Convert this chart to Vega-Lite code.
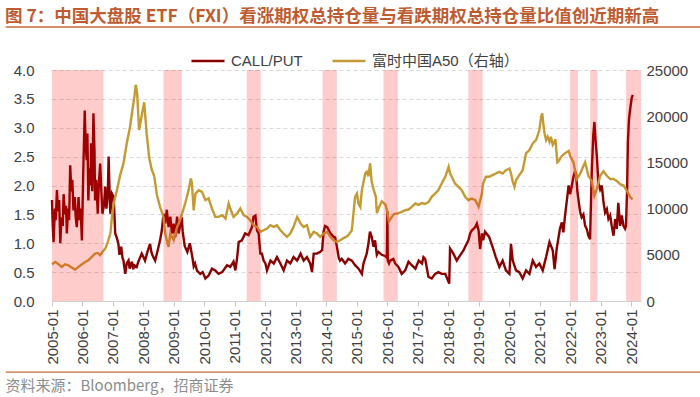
{
  "$schema": "https://vega.github.io/schema/vega-lite/v6.json",
  "width": 589,
  "height": 231,
  "autosize": {"type": "none"},
  "padding": {"left": 52, "top": 70, "right": 59, "bottom": 96},
  "background": "white",
  "config": {
    "view": {"stroke": null},
    "font": "'Liberation Sans', 'Noto Sans CJK SC', sans-serif"
  },
  "title": {
    "text": "图 7：中国大盘股 ETF（FXI）看涨期权总持仓量与看跌期权总持仓量比值创近期新高",
    "anchor": "start",
    "frame": "group",
    "dx": -47,
    "offset": 0,
    "dy": -1,
    "fontSize": 17.5,
    "fontWeight": "bold",
    "color": "#BF5B30",
    "font": "'Noto Sans CJK SC', sans-serif"
  },
  "datasets": {
    "cp": [
      {"d": "2005-01-01", "v": 1.75}, {"d": "2005-01-10", "v": 1.3}, {"d": "2005-01-20", "v": 1.02}, {"d": "2005-02-05", "v": 1.6},
      {"d": "2005-02-15", "v": 1.4}, {"d": "2005-03-01", "v": 1.92}, {"d": "2005-03-15", "v": 1.55}, {"d": "2005-03-28", "v": 1.75},
      {"d": "2005-04-10", "v": 1.0}, {"d": "2005-04-25", "v": 1.45}, {"d": "2005-05-10", "v": 1.3}, {"d": "2005-05-20", "v": 1.85},
      {"d": "2005-06-05", "v": 1.5}, {"d": "2005-06-18", "v": 1.65}, {"d": "2005-06-28", "v": 1.17}, {"d": "2005-07-12", "v": 1.6},
      {"d": "2005-07-25", "v": 1.4}, {"d": "2005-08-07", "v": 2.35}, {"d": "2005-08-20", "v": 1.9}, {"d": "2005-09-01", "v": 2.1},
      {"d": "2005-09-15", "v": 1.57}, {"d": "2005-10-01", "v": 1.8}, {"d": "2005-10-12", "v": 1.45}, {"d": "2005-10-25", "v": 1.28},
      {"d": "2005-11-05", "v": 1.55}, {"d": "2005-11-15", "v": 1.8}, {"d": "2005-11-28", "v": 1.4}, {"d": "2005-12-10", "v": 1.6},
      {"d": "2005-12-25", "v": 1.05}, {"d": "2006-01-10", "v": 2.2}, {"d": "2006-01-28", "v": 3.3}, {"d": "2006-02-08", "v": 2.73},
      {"d": "2006-02-20", "v": 2.44}, {"d": "2006-03-01", "v": 2.9}, {"d": "2006-03-12", "v": 1.74}, {"d": "2006-03-25", "v": 2.3},
      {"d": "2006-04-05", "v": 2.0}, {"d": "2006-04-15", "v": 2.73}, {"d": "2006-04-28", "v": 1.9}, {"d": "2006-05-12", "v": 3.25},
      {"d": "2006-05-25", "v": 2.6}, {"d": "2006-06-01", "v": 1.74}, {"d": "2006-06-15", "v": 2.1}, {"d": "2006-07-03", "v": 1.51},
      {"d": "2006-07-15", "v": 2.0}, {"d": "2006-08-01", "v": 2.38}, {"d": "2006-08-15", "v": 1.9}, {"d": "2006-08-28", "v": 1.51},
      {"d": "2006-09-15", "v": 1.65}, {"d": "2006-10-01", "v": 1.98}, {"d": "2006-10-15", "v": 1.6}, {"d": "2006-11-01", "v": 1.9},
      {"d": "2006-11-10", "v": 2.5}, {"d": "2006-11-25", "v": 1.7}, {"d": "2006-12-01", "v": 1.51}, {"d": "2006-12-20", "v": 1.86},
      {"d": "2007-01-10", "v": 1.8}, {"d": "2007-01-28", "v": 1.17}, {"d": "2007-02-15", "v": 1.1}, {"d": "2007-03-07", "v": 0.99},
      {"d": "2007-03-20", "v": 0.8}, {"d": "2007-04-10", "v": 0.94}, {"d": "2007-04-25", "v": 0.75}, {"d": "2007-05-07", "v": 0.7},
      {"d": "2007-05-28", "v": 0.47}, {"d": "2007-06-15", "v": 0.65}, {"d": "2007-07-06", "v": 0.7}, {"d": "2007-07-20", "v": 0.56},
      {"d": "2007-08-15", "v": 0.68}, {"d": "2007-09-01", "v": 0.55}, {"d": "2007-09-15", "v": 0.62}, {"d": "2007-10-12", "v": 0.59},
      {"d": "2007-11-01", "v": 0.68}, {"d": "2007-11-15", "v": 0.73}, {"d": "2007-12-12", "v": 0.82}, {"d": "2008-01-05", "v": 0.75},
      {"d": "2008-01-20", "v": 0.7}, {"d": "2008-02-18", "v": 0.85}, {"d": "2008-03-20", "v": 0.99}, {"d": "2008-04-05", "v": 0.85},
      {"d": "2008-04-18", "v": 0.79}, {"d": "2008-05-20", "v": 0.7}, {"d": "2008-06-20", "v": 0.88}, {"d": "2008-07-18", "v": 1.05},
      {"d": "2008-08-08", "v": 1.22}, {"d": "2008-08-28", "v": 1.51}, {"d": "2008-09-18", "v": 1.34}, {"d": "2008-10-07", "v": 1.58},
      {"d": "2008-10-28", "v": 1.28}, {"d": "2008-11-18", "v": 1.46}, {"d": "2008-12-07", "v": 1.17}, {"d": "2008-12-28", "v": 1.34},
      {"d": "2009-01-15", "v": 1.1}, {"d": "2009-02-07", "v": 1.46}, {"d": "2009-02-25", "v": 1.17}, {"d": "2009-03-15", "v": 1.3},
      {"d": "2009-04-04", "v": 1.45}, {"d": "2009-04-15", "v": 1.2}, {"d": "2009-05-10", "v": 0.95}, {"d": "2009-06-10", "v": 0.85},
      {"d": "2009-07-10", "v": 1.0}, {"d": "2009-08-10", "v": 0.75}, {"d": "2009-08-25", "v": 0.6}, {"d": "2009-09-10", "v": 0.65},
      {"d": "2009-10-05", "v": 0.52}, {"d": "2009-11-12", "v": 0.47}, {"d": "2009-12-10", "v": 0.5}, {"d": "2010-01-12", "v": 0.39},
      {"d": "2010-02-20", "v": 0.44}, {"d": "2010-04-01", "v": 0.56}, {"d": "2010-05-10", "v": 0.53}, {"d": "2010-06-18", "v": 0.47},
      {"d": "2010-08-01", "v": 0.5}, {"d": "2010-09-28", "v": 0.62}, {"d": "2010-11-06", "v": 0.59}, {"d": "2010-12-15", "v": 0.68},
      {"d": "2011-01-06", "v": 0.53}, {"d": "2011-01-28", "v": 0.76}, {"d": "2011-02-15", "v": 1.02}, {"d": "2011-03-25", "v": 1.05},
      {"d": "2011-05-03", "v": 1.17}, {"d": "2011-06-12", "v": 1.14}, {"d": "2011-07-24", "v": 1.28}, {"d": "2011-08-12", "v": 1.46},
      {"d": "2011-09-03", "v": 1.48}, {"d": "2011-09-22", "v": 1.22}, {"d": "2011-10-12", "v": 1.17}, {"d": "2011-11-01", "v": 0.82},
      {"d": "2011-11-20", "v": 0.82}, {"d": "2011-12-10", "v": 0.7}, {"d": "2012-01-01", "v": 0.65}, {"d": "2012-01-20", "v": 0.53},
      {"d": "2012-03-01", "v": 0.7}, {"d": "2012-04-10", "v": 0.65}, {"d": "2012-05-18", "v": 0.76}, {"d": "2012-06-28", "v": 0.65},
      {"d": "2012-08-06", "v": 0.53}, {"d": "2012-09-15", "v": 0.7}, {"d": "2012-10-25", "v": 0.65}, {"d": "2012-12-03", "v": 0.76},
      {"d": "2013-01-15", "v": 0.7}, {"d": "2013-02-25", "v": 0.82}, {"d": "2013-04-03", "v": 0.7}, {"d": "2013-05-12", "v": 0.76},
      {"d": "2013-06-20", "v": 0.65}, {"d": "2013-07-12", "v": 0.5}, {"d": "2013-08-01", "v": 0.82}, {"d": "2013-09-10", "v": 0.82},
      {"d": "2013-10-15", "v": 0.85}, {"d": "2013-11-10", "v": 0.88}, {"d": "2013-11-28", "v": 1.2}, {"d": "2013-12-15", "v": 1.3},
      {"d": "2014-01-10", "v": 1.28}, {"d": "2014-02-18", "v": 1.17}, {"d": "2014-03-28", "v": 1.11}, {"d": "2014-04-15", "v": 1.1},
      {"d": "2014-05-06", "v": 0.94}, {"d": "2014-05-28", "v": 0.75}, {"d": "2014-06-12", "v": 0.7}, {"d": "2014-07-03", "v": 0.73},
      {"d": "2014-08-12", "v": 0.65}, {"d": "2014-09-20", "v": 0.73}, {"d": "2014-11-01", "v": 0.7}, {"d": "2014-12-10", "v": 0.62},
      {"d": "2015-01-20", "v": 0.56}, {"d": "2015-03-01", "v": 0.47}, {"d": "2015-03-20", "v": 0.65}, {"d": "2015-04-28", "v": 0.82},
      {"d": "2015-05-18", "v": 0.99}, {"d": "2015-06-06", "v": 1.2}, {"d": "2015-06-27", "v": 1.11}, {"d": "2015-07-18", "v": 0.94},
      {"d": "2015-08-06", "v": 1.05}, {"d": "2015-08-27", "v": 0.8}, {"d": "2015-09-15", "v": 0.85}, {"d": "2015-10-25", "v": 0.8},
      {"d": "2015-12-03", "v": 0.78}, {"d": "2015-12-25", "v": 0.75}, {"d": "2016-01-01", "v": 1.55}, {"d": "2016-01-05", "v": 0.7},
      {"d": "2016-01-20", "v": 0.65}, {"d": "2016-02-03", "v": 0.7}, {"d": "2016-03-12", "v": 0.73}, {"d": "2016-04-03", "v": 0.65},
      {"d": "2016-05-12", "v": 0.59}, {"d": "2016-06-20", "v": 0.47}, {"d": "2016-08-01", "v": 0.53}, {"d": "2016-09-10", "v": 0.68},
      {"d": "2016-10-18", "v": 0.62}, {"d": "2016-12-01", "v": 0.56}, {"d": "2017-01-10", "v": 0.7}, {"d": "2017-02-18", "v": 0.65},
      {"d": "2017-03-08", "v": 0.76}, {"d": "2017-03-28", "v": 0.73}, {"d": "2017-05-06", "v": 0.42}, {"d": "2017-06-15", "v": 0.39},
      {"d": "2017-07-25", "v": 0.47}, {"d": "2017-09-03", "v": 0.5}, {"d": "2017-10-12", "v": 0.47}, {"d": "2017-11-24", "v": 0.47},
      {"d": "2017-12-25", "v": 0.36}, {"d": "2018-01-10", "v": 0.3}, {"d": "2018-01-20", "v": 0.91}, {"d": "2018-03-01", "v": 0.82},
      {"d": "2018-04-10", "v": 0.7}, {"d": "2018-05-20", "v": 0.79}, {"d": "2018-07-01", "v": 0.88}, {"d": "2018-07-20", "v": 0.94},
      {"d": "2018-08-28", "v": 1.05}, {"d": "2018-09-18", "v": 1.17}, {"d": "2018-10-07", "v": 1.22}, {"d": "2018-11-18", "v": 1.28},
      {"d": "2018-12-07", "v": 1.34}, {"d": "2018-12-28", "v": 1.22}, {"d": "2019-01-15", "v": 0.9}, {"d": "2019-02-06", "v": 1.17},
      {"d": "2019-02-20", "v": 1.05}, {"d": "2019-03-15", "v": 1.2}, {"d": "2019-05-03", "v": 1.11}, {"d": "2019-06-12", "v": 0.94},
      {"d": "2019-07-22", "v": 0.76}, {"d": "2019-09-03", "v": 0.59}, {"d": "2019-10-12", "v": 0.7}, {"d": "2019-11-20", "v": 0.53},
      {"d": "2020-01-01", "v": 0.47}, {"d": "2020-01-20", "v": 0.99}, {"d": "2020-02-10", "v": 0.7}, {"d": "2020-03-20", "v": 0.53},
      {"d": "2020-04-28", "v": 0.5}, {"d": "2020-06-08", "v": 0.39}, {"d": "2020-07-18", "v": 0.53}, {"d": "2020-08-28", "v": 0.47},
      {"d": "2020-10-06", "v": 0.7}, {"d": "2020-11-15", "v": 0.59}, {"d": "2020-12-25", "v": 0.65}, {"d": "2021-02-03", "v": 0.53},
      {"d": "2021-03-15", "v": 0.76}, {"d": "2021-04-25", "v": 1.02}, {"d": "2021-06-03", "v": 0.88}, {"d": "2021-06-25", "v": 0.55},
      {"d": "2021-07-20", "v": 0.9}, {"d": "2021-08-28", "v": 1.25}, {"d": "2021-09-20", "v": 1.36}, {"d": "2021-10-08", "v": 1.19},
      {"d": "2021-10-30", "v": 1.5}, {"d": "2021-11-20", "v": 1.75}, {"d": "2021-12-10", "v": 2.0}, {"d": "2021-12-28", "v": 1.85},
      {"d": "2022-01-18", "v": 2.0}, {"d": "2022-02-06", "v": 2.15}, {"d": "2022-02-25", "v": 2.25}, {"d": "2022-03-10", "v": 2.2},
      {"d": "2022-03-25", "v": 1.9}, {"d": "2022-04-12", "v": 1.7}, {"d": "2022-04-26", "v": 1.55}, {"d": "2022-05-15", "v": 1.45},
      {"d": "2022-06-05", "v": 1.5}, {"d": "2022-06-26", "v": 1.3}, {"d": "2022-07-15", "v": 1.25}, {"d": "2022-08-04", "v": 1.13},
      {"d": "2022-08-24", "v": 1.07}, {"d": "2022-09-13", "v": 2.22}, {"d": "2022-10-01", "v": 2.86}, {"d": "2022-10-15", "v": 3.1},
      {"d": "2022-10-28", "v": 2.8}, {"d": "2022-11-13", "v": 2.51}, {"d": "2022-12-01", "v": 2.05}, {"d": "2022-12-23", "v": 1.93},
      {"d": "2023-01-12", "v": 2.0}, {"d": "2023-02-01", "v": 1.71}, {"d": "2023-02-20", "v": 1.53}, {"d": "2023-03-13", "v": 1.59},
      {"d": "2023-04-01", "v": 1.42}, {"d": "2023-04-22", "v": 1.48}, {"d": "2023-05-10", "v": 1.3}, {"d": "2023-06-01", "v": 1.13},
      {"d": "2023-06-20", "v": 1.42}, {"d": "2023-07-10", "v": 1.25}, {"d": "2023-07-28", "v": 1.7}, {"d": "2023-08-19", "v": 1.3},
      {"d": "2023-09-08", "v": 1.48}, {"d": "2023-09-28", "v": 1.3}, {"d": "2023-10-17", "v": 1.25}, {"d": "2023-10-28", "v": 1.3},
      {"d": "2023-11-10", "v": 1.9}, {"d": "2023-11-20", "v": 2.74}, {"d": "2023-12-03", "v": 3.14}, {"d": "2023-12-17", "v": 3.32},
      {"d": "2024-01-05", "v": 3.52}, {"d": "2024-01-18", "v": 3.57}
    ],
    "a50": [
      {"d": "2005-01-01", "v": 3970}, {"d": "2005-02-10", "v": 4230}, {"d": "2005-03-20", "v": 3970}, {"d": "2005-04-28", "v": 3690},
      {"d": "2005-06-06", "v": 3970}, {"d": "2005-07-18", "v": 3870}, {"d": "2005-08-28", "v": 3610}, {"d": "2005-10-06", "v": 3400},
      {"d": "2005-11-15", "v": 3690}, {"d": "2005-12-25", "v": 3970}, {"d": "2006-02-03", "v": 4230}, {"d": "2006-03-12", "v": 4400},
      {"d": "2006-04-22", "v": 4770}, {"d": "2006-06-01", "v": 5130}, {"d": "2006-07-03", "v": 5200}, {"d": "2006-08-01", "v": 4950},
      {"d": "2006-08-28", "v": 5310}, {"d": "2006-10-01", "v": 5670}, {"d": "2006-11-01", "v": 6400}, {"d": "2006-12-01", "v": 7300},
      {"d": "2006-12-20", "v": 9100}, {"d": "2007-01-10", "v": 10550}, {"d": "2007-01-28", "v": 11270}, {"d": "2007-02-18", "v": 12000},
      {"d": "2007-03-28", "v": 13620}, {"d": "2007-05-07", "v": 14890}, {"d": "2007-06-15", "v": 17050}, {"d": "2007-07-25", "v": 18860},
      {"d": "2007-08-22", "v": 20670}, {"d": "2007-09-15", "v": 22110}, {"d": "2007-10-01", "v": 23400}, {"d": "2007-10-18", "v": 22470},
      {"d": "2007-11-10", "v": 18500}, {"d": "2007-12-10", "v": 20000}, {"d": "2008-01-10", "v": 21500}, {"d": "2008-02-10", "v": 18000},
      {"d": "2008-03-10", "v": 15500}, {"d": "2008-04-10", "v": 14200}, {"d": "2008-05-10", "v": 13500}, {"d": "2008-06-10", "v": 11500},
      {"d": "2008-07-18", "v": 10190}, {"d": "2008-08-28", "v": 9100}, {"d": "2008-09-18", "v": 7300}, {"d": "2008-10-07", "v": 6580},
      {"d": "2008-10-28", "v": 5850}, {"d": "2008-11-18", "v": 7300}, {"d": "2008-12-28", "v": 6580}, {"d": "2009-02-07", "v": 8020},
      {"d": "2009-03-15", "v": 8740}, {"d": "2009-05-15", "v": 10550}, {"d": "2009-06-25", "v": 12000}, {"d": "2009-07-22", "v": 13260},
      {"d": "2009-08-03", "v": 12800}, {"d": "2009-08-25", "v": 9800}, {"d": "2009-09-15", "v": 11630}, {"d": "2009-10-25", "v": 12000},
      {"d": "2009-12-03", "v": 11810}, {"d": "2010-01-12", "v": 10910}, {"d": "2010-02-20", "v": 11090}, {"d": "2010-04-01", "v": 10010},
      {"d": "2010-05-10", "v": 9100}, {"d": "2010-06-18", "v": 9100}, {"d": "2010-08-01", "v": 9290}, {"d": "2010-09-10", "v": 8920},
      {"d": "2010-10-18", "v": 10550}, {"d": "2010-11-06", "v": 10010}, {"d": "2010-12-15", "v": 9100}, {"d": "2011-01-28", "v": 9470},
      {"d": "2011-03-06", "v": 10010}, {"d": "2011-04-15", "v": 9290}, {"d": "2011-05-25", "v": 9100}, {"d": "2011-07-03", "v": 8740},
      {"d": "2011-08-12", "v": 8200}, {"d": "2011-09-22", "v": 8020}, {"d": "2011-11-01", "v": 7480}, {"d": "2011-12-10", "v": 7660},
      {"d": "2012-01-20", "v": 7840}, {"d": "2012-03-01", "v": 8200}, {"d": "2012-04-10", "v": 8020}, {"d": "2012-05-18", "v": 8200},
      {"d": "2012-06-28", "v": 7660}, {"d": "2012-08-06", "v": 7300}, {"d": "2012-09-15", "v": 6940}, {"d": "2012-10-25", "v": 7300},
      {"d": "2012-12-03", "v": 8020}, {"d": "2013-01-15", "v": 9100}, {"d": "2013-02-25", "v": 8380}, {"d": "2013-04-03", "v": 8020},
      {"d": "2013-05-12", "v": 8200}, {"d": "2013-06-20", "v": 6940}, {"d": "2013-08-01", "v": 7480}, {"d": "2013-09-10", "v": 7300},
      {"d": "2013-10-18", "v": 6940}, {"d": "2013-11-28", "v": 7300}, {"d": "2014-01-10", "v": 7480}, {"d": "2014-02-18", "v": 6940},
      {"d": "2014-03-28", "v": 6580}, {"d": "2014-05-06", "v": 6400}, {"d": "2014-06-15", "v": 6580}, {"d": "2014-07-25", "v": 6800},
      {"d": "2014-08-25", "v": 6940}, {"d": "2014-09-20", "v": 7120}, {"d": "2014-11-01", "v": 7660}, {"d": "2014-11-20", "v": 9470},
      {"d": "2014-12-10", "v": 11270}, {"d": "2015-01-01", "v": 11630}, {"d": "2015-01-20", "v": 10550}, {"d": "2015-02-10", "v": 10190},
      {"d": "2015-03-01", "v": 12000}, {"d": "2015-04-10", "v": 13800}, {"d": "2015-04-28", "v": 13980}, {"d": "2015-05-18", "v": 13500},
      {"d": "2015-06-08", "v": 14900}, {"d": "2015-06-25", "v": 13000}, {"d": "2015-07-15", "v": 12200}, {"d": "2015-08-15", "v": 11300},
      {"d": "2015-08-28", "v": 9500}, {"d": "2015-09-20", "v": 10100}, {"d": "2015-10-25", "v": 10800}, {"d": "2015-12-10", "v": 10400},
      {"d": "2015-12-31", "v": 9600}, {"d": "2016-01-20", "v": 8600}, {"d": "2016-02-15", "v": 9000}, {"d": "2016-03-20", "v": 9400},
      {"d": "2016-05-12", "v": 9500}, {"d": "2016-06-20", "v": 9650}, {"d": "2016-08-01", "v": 9830}, {"d": "2016-09-10", "v": 9900},
      {"d": "2016-10-18", "v": 10190}, {"d": "2016-12-01", "v": 10550}, {"d": "2017-01-10", "v": 10400}, {"d": "2017-02-18", "v": 10600},
      {"d": "2017-03-28", "v": 10500}, {"d": "2017-05-06", "v": 10700}, {"d": "2017-06-15", "v": 11270}, {"d": "2017-07-25", "v": 11630},
      {"d": "2017-09-03", "v": 12000}, {"d": "2017-10-12", "v": 12720}, {"d": "2017-11-24", "v": 13440}, {"d": "2018-01-03", "v": 14520},
      {"d": "2018-01-20", "v": 13800}, {"d": "2018-02-10", "v": 13440}, {"d": "2018-03-20", "v": 12720}, {"d": "2018-05-01", "v": 12360},
      {"d": "2018-06-10", "v": 12000}, {"d": "2018-07-20", "v": 11270}, {"d": "2018-08-28", "v": 10910}, {"d": "2018-10-07", "v": 11090},
      {"d": "2018-11-18", "v": 10910}, {"d": "2018-12-28", "v": 10190}, {"d": "2019-02-06", "v": 11630}, {"d": "2019-02-20", "v": 12720},
      {"d": "2019-03-25", "v": 13440}, {"d": "2019-05-03", "v": 13440}, {"d": "2019-06-12", "v": 13620}, {"d": "2019-07-22", "v": 13800},
      {"d": "2019-09-03", "v": 13980}, {"d": "2019-10-12", "v": 13800}, {"d": "2019-11-20", "v": 14160}, {"d": "2020-01-01", "v": 14340},
      {"d": "2020-01-20", "v": 13800}, {"d": "2020-02-10", "v": 12900}, {"d": "2020-03-01", "v": 12360}, {"d": "2020-03-20", "v": 13080},
      {"d": "2020-04-28", "v": 13620}, {"d": "2020-06-08", "v": 14160}, {"d": "2020-07-18", "v": 15970}, {"d": "2020-08-28", "v": 16330},
      {"d": "2020-10-06", "v": 17050}, {"d": "2020-11-15", "v": 17410}, {"d": "2020-12-25", "v": 18500}, {"d": "2021-01-15", "v": 19940},
      {"d": "2021-01-28", "v": 20300}, {"d": "2021-02-12", "v": 19040}, {"d": "2021-02-25", "v": 18140}, {"d": "2021-03-15", "v": 17410},
      {"d": "2021-04-03", "v": 17780}, {"d": "2021-04-25", "v": 17230}, {"d": "2021-05-12", "v": 17780}, {"d": "2021-06-03", "v": 16900},
      {"d": "2021-06-22", "v": 17200}, {"d": "2021-07-05", "v": 17500}, {"d": "2021-07-28", "v": 15000}, {"d": "2021-08-10", "v": 15100},
      {"d": "2021-09-20", "v": 15700}, {"d": "2021-10-30", "v": 16000}, {"d": "2021-12-10", "v": 16250}, {"d": "2021-12-28", "v": 15700},
      {"d": "2022-02-06", "v": 15000}, {"d": "2022-03-18", "v": 13200}, {"d": "2022-04-26", "v": 13750}, {"d": "2022-06-05", "v": 14600},
      {"d": "2022-06-26", "v": 15000}, {"d": "2022-08-04", "v": 13550}, {"d": "2022-09-13", "v": 13000}, {"d": "2022-10-15", "v": 11400},
      {"d": "2022-11-13", "v": 12100}, {"d": "2022-12-23", "v": 13550}, {"d": "2023-02-01", "v": 14050}, {"d": "2023-03-13", "v": 13550},
      {"d": "2023-04-22", "v": 13200}, {"d": "2023-06-01", "v": 13200}, {"d": "2023-07-10", "v": 13000}, {"d": "2023-08-19", "v": 12650},
      {"d": "2023-09-28", "v": 12500}, {"d": "2023-11-07", "v": 11950}, {"d": "2023-12-17", "v": 11250}, {"d": "2024-01-15", "v": 11000}
    ],
    "bands": [
      {"s": "2005-01-01", "e": "2006-09-10"},
      {"s": "2008-08-28", "e": "2009-04-05"},
      {"s": "2011-05-22", "e": "2011-11-06"},
      {"s": "2013-11-15", "e": "2014-05-05"},
      {"s": "2015-11-15", "e": "2016-05-05"},
      {"s": "2018-08-28", "e": "2019-02-15"},
      {"s": "2021-12-28", "e": "2022-04-01"},
      {"s": "2022-08-25", "e": "2022-11-20"},
      {"s": "2023-10-30", "e": "2024-04-25"}
    ]
  },
  "layer": [
    {
      "data": {"name": "cp"},
      "mark": {"type": "line", "strokeWidth": 2.4},
      "encoding": {
        "x": {
          "field": "d", "type": "temporal",
          "scale": {"domain": [{"year": 2005, "month": 1, "date": 1}, {"year": 2024, "month": 4, "date": 25}]},
          "axis": {
            "format": "%Y-%m",
            "tickCount": {"interval": "year", "step": 1},
            "labelAngle": 270,
            "labelAlign": "right",
            "labelBaseline": "middle",
            "labelFontSize": 15,
            "labelColor": "#404040",
            "labelPadding": 3,
            "labelOverlap": false,
            "labelFlush": false,
            "domainColor": "#D0D0D0",
            "tickColor": "#C8C8C8",
            "tickSize": 5,
            "grid": false,
            "title": "资料来源：Bloomberg，招商证券",
            "titleX": -47,
            "titleY": 84,
            "titleAlign": "left",
            "titleBaseline": "middle",
            "titleFontSize": 15,
            "titleFontWeight": "normal",
            "titleColor": "#8C8C8C",
            "titleFont": "'Noto Sans CJK SC', sans-serif"
          }
        },
        "y": {
          "field": "v", "type": "quantitative",
          "scale": {"domain": [0, 4], "nice": false},
          "axis": {
            "orient": "left",
            "values": [0, 0.5, 1, 1.5, 2, 2.5, 3, 3.5, 4],
            "format": ".1f",
            "title": null,
            "domain": false,
            "ticks": false,
            "labelFontSize": 15,
            "labelColor": "#404040",
            "labelPadding": 18,
            "gridColor": "#D9D9D9",
            "gridDash": [4, 3]
          }
        },
        "color": {
          "datum": "CALL/PUT",
          "scale": {"domain": ["CALL/PUT", "富时中国A50（右轴）"], "range": ["#8B0000", "#C49A34"]},
          "legend": {
            "orient": "none",
            "legendX": 138,
            "legendY": -27,
            "direction": "horizontal",
            "title": null,
            "symbolType": "stroke",
            "symbolSize": 1089,
            "symbolStrokeWidth": 2.5,
            "labelFontSize": 15,
            "labelColor": "#404040",
            "labelOffset": 5,
            "columnPadding": 24
          }
        }
      }
    },
    {
      "data": {"name": "a50"},
      "mark": {"type": "line", "strokeWidth": 2.4},
      "encoding": {
        "x": {"field": "d", "type": "temporal"},
        "y": {
          "field": "v", "type": "quantitative",
          "scale": {"domain": [0, 25000], "nice": false},
          "axis": {
            "orient": "right",
            "values": [0, 5000, 10000, 15000, 20000, 25000],
            "format": "d",
            "title": null,
            "domain": false,
            "ticks": false,
            "grid": false,
            "labelFontSize": 15,
            "labelColor": "#404040",
            "labelPadding": 5
          }
        },
        "color": {"datum": "富时中国A50（右轴）"}
      }
    },
    {
      "data": {"name": "bands"},
      "mark": {"type": "rect", "color": "#FF0000", "opacity": 0.2},
      "encoding": {
        "x": {"field": "s", "type": "temporal"},
        "x2": {"field": "e"}
      }
    },
    {
      "data": {"values": [{}]},
      "mark": {"type": "rule", "color": "#C46A3B", "strokeWidth": 1.3},
      "encoding": {
        "x": {"datum": {"year": 2003, "month": 6, "date": 27}, "type": "temporal"},
        "x2": {"datum": {"year": 2026, "month": 4, "date": 2}},
        "y": {"datum": 4.745, "type": "quantitative", "scale": {"domain": [0, 4], "nice": false}, "axis": null}
      }
    },
    {
      "data": {"values": [{}]},
      "mark": {"type": "rule", "color": "#C46A3B", "strokeWidth": 1.3},
      "encoding": {
        "x": {"datum": {"year": 2003, "month": 6, "date": 27}, "type": "temporal"},
        "x2": {"datum": {"year": 2026, "month": 4, "date": 2}},
        "y": {"datum": -1.23, "type": "quantitative", "scale": {"domain": [0, 4], "nice": false}, "axis": null}
      }
    }
  ],
  "resolve": {"scale": {"y": "independent"}}
}
